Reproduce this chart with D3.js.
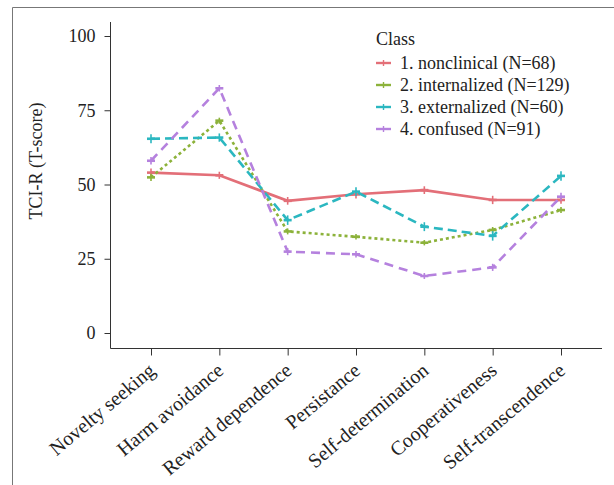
<!DOCTYPE html>
<html>
<head>
<meta charset="utf-8">
<script src="https://cdn.jsdelivr.net/npm/d3@7.9.0/dist/d3.min.js"></script>
<style>
  html, body { margin: 0; padding: 0; background: #fff; }
  svg { display: block; font-family: "Liberation Serif", serif; }
</style>
</head>
<body>
<svg id="chart" width="614" height="485"></svg>
<script>
const categories = ['Novelty seeking', 'Harm avoidance', 'Reward dependence', 'Persistance',
  'Self-determination', 'Cooperativeness', 'Self-transcendence'];
const yTicks = [0, 25, 50, 75, 100];

const classNames = ['1. nonclinical (N=68)', '2. internalized (N=129)', '3. externalized (N=60)', '4. confused (N=91)'];
const nonclinical = [54.0, 53.1, 44.5, 46.7, 48.1, 44.8, 44.8];
const internalized = [52.4, 71.5, 34.2, 32.4, 30.4, 34.7, 41.4];
const externalized = [65.4, 65.8, 38.0, 47.6, 35.8, 32.7, 52.9];
const confused = [58.0, 82.4, 27.4, 26.5, 19.2, 22.1, 45.9];
// approximate standard errors
const errNonclinical = [1.4, 1.2, 1.3, 1.4, 1.3, 1.4, 1.3];
const errInternalized = [1.2, 1.0, 1.0, 0.9, 0.9, 1.0, 1.0];
const errExternalized = [1.5, 1.4, 1.6, 1.5, 1.5, 1.6, 1.6];
const errConfused = [1.3, 1.1, 1.2, 1.1, 1.0, 1.2, 1.3];

const series = [
  { name: classNames[0], values: nonclinical, err: errNonclinical, color: '#e36f78', dash: null },
  { name: classNames[1], values: internalized, err: errInternalized, color: '#8cb23a', dash: '3,3' },
  { name: classNames[2], values: externalized, err: errExternalized, color: '#2bb7c0', dash: '9,5' },
  { name: classNames[3], values: confused, err: errConfused, color: '#b581de', dash: '9,6' },
];

const FONT = '"Liberation Serif", serif';
const svg = d3.select('#chart');

// outer frame (left + top edges of the figure box)
svg.append('path')
  .attr('d', 'M12.5,485 V7.5 H614')
  .attr('fill', 'none').attr('stroke', '#777').attr('stroke-width', 1);

const x = d3.scalePoint().domain(categories).range([110, 602]).padding(0.6);
const y = d3.scaleLinear().domain([0, 100]).range([333, 36]);

// axis frame (L shape)
svg.append('path')
  .attr('d', 'M110.5,22 V348.5 H602')
  .attr('fill', 'none').attr('stroke', '#333').attr('stroke-width', 1);

const yAxis = svg.append('g')
  .attr('transform', 'translate(110.5,0)')
  .call(d3.axisLeft(y).tickValues(yTicks).tickSize(6).tickPadding(9));
yAxis.attr('font-family', FONT);
yAxis.select('.domain').remove();
yAxis.selectAll('line').attr('stroke', '#333');
yAxis.selectAll('text').attr('font-size', 18).attr('fill', '#222');

const xAxis = svg.append('g')
  .attr('transform', 'translate(0,348.5)')
  .call(d3.axisBottom(x).tickSize(7).tickPadding(4));
xAxis.attr('font-family', FONT);
xAxis.select('.domain').remove();
xAxis.selectAll('line').attr('stroke', '#333');
xAxis.selectAll('text')
  .attr('font-size', 20).attr('fill', '#222')
  .attr('text-anchor', 'end')
  .attr('x', 0).attr('y', 0)
  .attr('dy', null)
  .attr('transform', 'translate(5,24) rotate(-40)');

svg.append('text')
  .attr('transform', 'translate(42,161) rotate(-90)')
  .attr('text-anchor', 'middle')
  .attr('font-family', FONT)
  .attr('font-size', 18).attr('fill', '#222')
  .text('TCI-R (T-score)');

const line = d3.line().x((d, i) => x(categories[i])).y(d => y(d));

const g = svg.selectAll('g.series')
  .data(series)
  .join('g')
  .attr('class', 'series');

g.append('path')
  .attr('d', d => line(d.values))
  .attr('fill', 'none')
  .attr('stroke', d => d.color)
  .attr('stroke-width', 2.6)
  .attr('stroke-dasharray', d => d.dash);

g.each(function (s) {
  const sel = d3.select(this);
  s.values.forEach((v, i) => {
    const cx = x(categories[i]);
    sel.append('line')
      .attr('x1', cx).attr('x2', cx)
      .attr('y1', y(v - s.err[i])).attr('y2', y(v + s.err[i]))
      .attr('stroke', s.color).attr('stroke-width', 1.6);
    sel.append('line')
      .attr('x1', cx - 4).attr('x2', cx + 4)
      .attr('y1', y(v)).attr('y2', y(v))
      .attr('stroke', s.color).attr('stroke-width', 2.6);
  });
});

// legend
const legend = svg.append('g').attr('transform', 'translate(376,0)')
  .attr('font-family', FONT);
legend.append('text')
  .attr('x', 0).attr('y', 45)
  .attr('font-size', 18).attr('fill', '#222')
  .text('Class');

series.forEach((s, i) => {
  const ly = 63 + i * 22;
  legend.append('line')
    .attr('x1', 0).attr('x2', 15).attr('y1', ly).attr('y2', ly)
    .attr('stroke', s.color).attr('stroke-width', 2.4);
  legend.append('line')
    .attr('x1', 7.5).attr('x2', 7.5).attr('y1', ly - 3).attr('y2', ly + 3)
    .attr('stroke', s.color).attr('stroke-width', 1.4);
  legend.append('text')
    .attr('x', 24).attr('y', ly + 5.5)
    .attr('font-size', 18).attr('fill', '#222')
    .text(s.name);
});
</script>
</body>
</html>
